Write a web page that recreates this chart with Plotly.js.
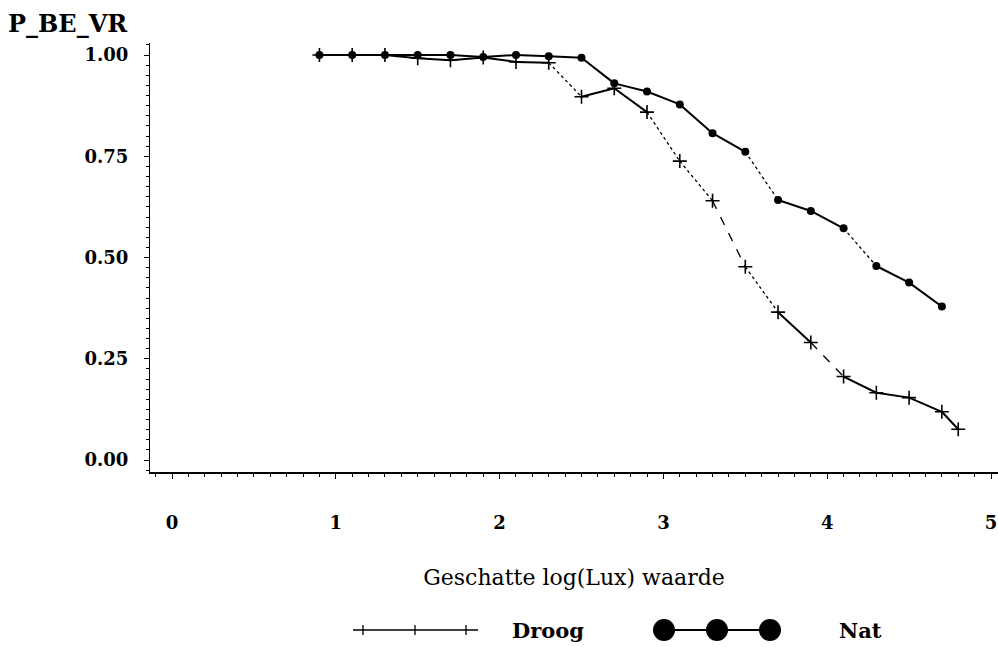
<!DOCTYPE html>
<html>
<head>
<meta charset="utf-8">
<script src="https://cdn.plot.ly/plotly-3.0.1.min.js"></script>
<style>
  html, body { margin: 0; padding: 0; background: #fff; }
  #chart { width: 998px; height: 647px; }
</style>
</head>
<body>
<div id="chart"></div>
<script>
// ---- data ----
const droogX = [0.9, 1.1, 1.3, 1.5, 1.7, 1.9, 2.1, 2.3, 2.5, 2.7, 2.9, 3.1, 3.3, 3.5, 3.7, 3.9, 4.1, 4.3, 4.5, 4.7, 4.8];
const droogY = [1.000, 1.000, 1.000, 0.992, 0.987, 0.994, 0.983, 0.981, 0.897, 0.918, 0.859, 0.738, 0.640, 0.477, 0.365, 0.290, 0.206, 0.166, 0.154, 0.119, 0.076];
const natX = [0.9, 1.1, 1.3, 1.5, 1.7, 1.9, 2.1, 2.3, 2.5, 2.7, 2.9, 3.1, 3.3, 3.5, 3.7, 3.9, 4.1, 4.3, 4.5, 4.7];
const natY = [1.000, 1.000, 1.000, 1.000, 1.000, 0.995, 1.000, 0.997, 0.993, 0.930, 0.910, 0.878, 0.807, 0.761, 0.642, 0.615, 0.572, 0.479, 0.438, 0.379];
const xTickVals = [0, 1, 2, 3, 4, 5];
const xTickText = ['0', '1', '2', '3', '4', '5'];
const yTickVals = [0, 0.25, 0.5, 0.75, 1.0];
const yTickText = ['0.00', '0.25', '0.50', '0.75', '1.00'];
const seriesNames = ['Droog', 'Nat'];

// line style of each segment (the scanned print shows steep segments faint/dotted)
const droogSegStyle = ['solid','solid','solid','solid','solid','solid','solid','dot','solid','solid','dot','dot','dash','dot','solid','dash','solid','solid','solid','solid'];
const natSegStyle = ['solid','solid','solid','solid','solid','solid','solid','solid','solid','solid','solid','solid','solid','dot','solid','solid','dot','solid','solid'];

// ---- layout geometry ----
const W = 998, H = 647;
const M = { l: 150, r: 0, t: 43, b: 175 };
const PW = W - M.l - M.r, PH = H - M.t - M.b;
const px2x = px => (px - M.l) / PW;
const py2y = py => (H - M.b - py) / PH;
const serif = 'DejaVu Serif, Liberation Serif, serif';

function segTraces(xs, ys, styles) {
  const out = [];
  for (let i = 0; i < xs.length - 1; i++) {
    const st = styles[i];
    out.push({
      x: [xs[i], xs[i + 1]], y: [ys[i], ys[i + 1]],
      mode: 'lines', type: 'scatter', showlegend: false, hoverinfo: 'skip',
      line: { color: '#000', width: st === 'solid' ? 2 : 1.3, dash: st }
    });
  }
  return out;
}

const traces = [
  ...segTraces(droogX, droogY, droogSegStyle),
  ...segTraces(natX, natY, natSegStyle),
  {
    x: droogX, y: droogY, name: seriesNames[0], mode: 'markers', type: 'scatter', showlegend: false,
    marker: { symbol: 'cross-thin', size: 10, color: '#000', line: { color: '#000', width: 1.6 } }
  },
  {
    x: natX, y: natY, name: seriesNames[1], mode: 'markers', type: 'scatter', showlegend: false,
    marker: { symbol: 'circle', size: 8, color: '#000' }
  }
];

// ---- hand-drawn legend (wide samples like the original) ----
const legY = 630;
const shapes = [];
// Droog sample: line with three plus ticks
shapes.push({ type: 'line', xref: 'paper', yref: 'paper', x0: px2x(353), x1: px2x(478), y0: py2y(legY), y1: py2y(legY), line: { color: '#000', width: 1.6 } });
[363, 415, 466].forEach(cx => {
  shapes.push({ type: 'line', xref: 'paper', yref: 'paper', x0: px2x(cx), x1: px2x(cx), y0: py2y(legY - 5), y1: py2y(legY + 5), line: { color: '#000', width: 1.3 } });
});
// Nat sample: big dots joined by a line
shapes.push({ type: 'line', xref: 'paper', yref: 'paper', x0: px2x(664), x1: px2x(770), y0: py2y(legY), y1: py2y(legY), line: { color: '#000', width: 2 } });
[664, 717, 770].forEach(cx => {
  shapes.push({ type: 'circle', xref: 'paper', yref: 'paper', x0: px2x(cx - 11), x1: px2x(cx + 11), y0: py2y(legY + 11), y1: py2y(legY - 11), fillcolor: '#000', line: { color: '#000', width: 0 } });
});

const annotations = [
  { xref: 'paper', yref: 'paper', x: px2x(510), y: py2y(legY), xanchor: 'left', yanchor: 'middle', text: seriesNames[0], showarrow: false, font: { family: serif, size: 21, color: '#000', weight: 'bold' } },
  { xref: 'paper', yref: 'paper', x: px2x(837), y: py2y(legY), xanchor: 'left', yanchor: 'middle', text: seriesNames[1], showarrow: false, font: { family: serif, size: 21, color: '#000', weight: 'bold' } }
];

const layout = {
  width: W, height: H,
  margin: M,
  paper_bgcolor: '#fff', plot_bgcolor: '#fff',
  showlegend: false,
  title: {
    text: 'P_BE_VR', xref: 'container', yref: 'container',
    x: 8 / W, xanchor: 'left', y: 1 - 24 / H, yanchor: 'middle',
    font: { family: serif, size: 24, color: '#000', weight: 'bold' }
  },
  xaxis: {
    range: [px2x(150) * 0 + (150 - 172) / 163.8, (998 - 172) / 163.8],
    showgrid: false, zeroline: false,
    showline: true, linecolor: '#000', linewidth: 2,
    ticks: 'outside', ticklen: 5, tickwidth: 1, tickcolor: '#000',
    tickmode: 'array', tickvals: xTickVals, ticktext: xTickText,
    ticklabelstandoff: 28,
    tickfont: { family: serif, size: 18, color: '#000', weight: 'bold' },
    minor: { dtick: 0.1, ticks: 'outside', ticklen: 3, tickwidth: 1, tickcolor: '#000', showgrid: false },
    title: { text: 'Geschatte log(Lux) waarde', standoff: 38, font: { family: serif, size: 22, color: '#000' } },
    automargin: false, fixedrange: true
  },
  yaxis: {
    range: [-(472 - 460) / 405, 1 + (55 - 43) / 405],
    showgrid: false, zeroline: false,
    showline: true, linecolor: '#000', linewidth: 1,
    ticks: 'outside', ticklen: 5, tickwidth: 1, tickcolor: '#000',
    tickmode: 'array', tickvals: yTickVals, ticktext: yTickText,
    ticklabelstandoff: 12,
    tickfont: { family: serif, size: 18, color: '#000', weight: 'bold' },
    minor: { dtick: 0.025, ticks: 'outside', ticklen: 3, tickwidth: 1, tickcolor: '#000', showgrid: false },
    automargin: false, fixedrange: true
  },
  shapes: shapes,
  annotations: annotations
};

Plotly.newPlot('chart', traces, layout, { displayModeBar: false, staticPlot: true });
</script>
</body>
</html>
